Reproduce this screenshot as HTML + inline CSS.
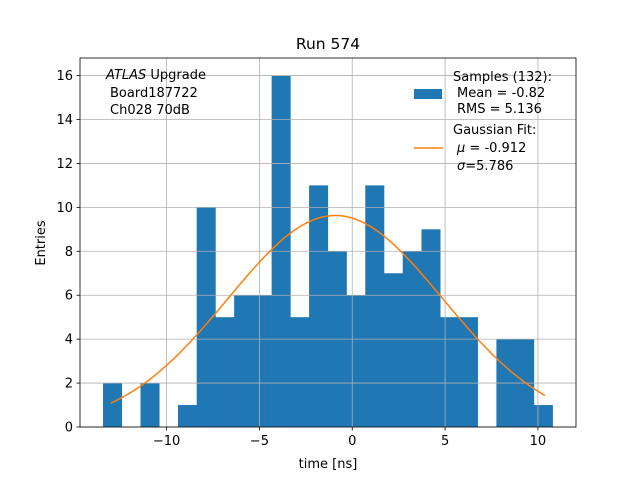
<!DOCTYPE html>
<html><head><meta charset="utf-8"><style>
body{margin:0;background:#fff}
svg text{font-family:"DejaVu Sans","Liberation Sans",sans-serif;fill:#000}
</style></head><body>
<svg width="640" height="480" viewBox="0 0 640 480">
<g id="bars"></g><g id="grid"></g><g id="curve"></g><g id="axes"></g>
<text x="328" y="49" font-size="15.5" text-anchor="middle">Run 574</text>
<text x="328" y="468" font-size="13" text-anchor="middle">time [ns]</text>
<text transform="translate(45,243) rotate(-90)" font-size="13" text-anchor="middle">Entries</text>
<g font-size="13">
<text x="106" y="79"><tspan font-style="italic">ATLAS</tspan> Upgrade</text>
<text x="110" y="97">Board187722</text>
<text x="110" y="114">Ch028 70dB</text>
</g>
<g font-size="13">
<rect x="414" y="89" width="28" height="10" fill="#1f77b4"/>
<text x="453" y="81">Samples (132):</text>
<text x="457" y="97">Mean = -0.82</text>
<text x="457" y="113">RMS = 5.136</text>
<line x1="414" y1="148" x2="443" y2="148" stroke="#ff7f0e" stroke-width="1.5"/>
<text x="453" y="134">Gaussian Fit:</text>
<text x="457" y="152"><tspan font-style="italic">μ</tspan> = -0.912</text>
<text x="457" y="170"><tspan font-style="italic">σ</tspan>=5.786</text>
</g>
</svg>
<script>
const counts=[2,0,2,0,1,10,5,6,6,16,5,11,8,6,11,7,8,9,5,5,0,4,4,1];
const binStart=-13.42, binEnd=10.79;
const fitMu=-0.912, fitSigma=5.786, fitAmp=9.63, fitFrom=-13.0, fitTo=10.38;
const xTicks=[-10,-5,0,5,10];
const yTicks=[0,2,4,6,8,10,12,14,16];
const L=80,R=576,T=58,B=427, xmin=-14.66, xmax=12.05, ymin=0, ymax=16.8;
const sx=v=>L+(v-xmin)/(xmax-xmin)*(R-L);
const sy=v=>B-(v-ymin)/(ymax-ymin)*(B-T);
const NS="http://www.w3.org/2000/svg";
function mk(t,a,p){const e=document.createElementNS(NS,t);for(const k in a)e.setAttribute(k,a[k]);p.appendChild(e);return e;}
const g=document.getElementById('grid'),b=document.getElementById('bars'),c=document.getElementById('curve'),ax=document.getElementById('axes');
const bw=(binEnd-binStart)/counts.length;
counts.forEach((n,i)=>{if(!n)return;const x0=sx(binStart+i*bw),x1=sx(binStart+(i+1)*bw);
const r=mk('rect',{x:x0,y:sy(n),width:x1-x0+0.3,height:sy(0)-sy(n),fill:'#1f77b4'},b);

});
xTicks.forEach(v=>{const x=sx(v);
const l=mk('line',{x1:x,x2:x,y1:T,y2:B,stroke:'#b0b0b0','stroke-width':0.8},g);


mk('line',{x1:x,x2:x,y1:B,y2:B+3.5,stroke:'#000','stroke-width':0.8},ax);
const t=mk('text',{x:x,y:B+18,'font-size':13,'text-anchor':'middle'},ax);t.textContent=(v<0?'−':'')+Math.abs(v);

});
yTicks.forEach(v=>{const y=sy(v);
const l=mk('line',{x1:L,x2:R,y1:y,y2:y,stroke:'#b0b0b0','stroke-width':0.8},g);


mk('line',{x1:L-3.5,x2:L,y1:y,y2:y,stroke:'#000','stroke-width':0.8},ax);
const t=mk('text',{x:L-7,y:y+4.5,'font-size':13,'text-anchor':'end'},ax);t.textContent=v;

});
let d='';for(let i=0;i<=200;i++){const v=fitFrom+(fitTo-fitFrom)*i/200;const yv=fitAmp*Math.exp(-0.5*((v-fitMu)/fitSigma)**2);d+=(i?'L':'M')+sx(v).toFixed(2)+' '+sy(yv).toFixed(2);}
const p=mk('path',{d:d,fill:'none',stroke:'#ff7f0e','stroke-width':1.5},c);


const fr=mk('rect',{x:L,y:T,width:R-L,height:B-T,fill:'none',stroke:'#000','stroke-width':0.8},ax);


</script>
</body></html>
